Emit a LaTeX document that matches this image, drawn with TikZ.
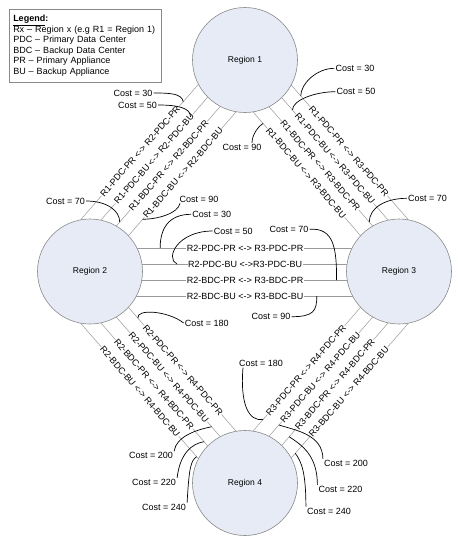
\documentclass[tikz,border=0pt]{standalone}
\usepackage{fontspec}
\setmainfont{Liberation Sans}
\definecolor{regfill}{HTML}{E6EBF6}
\definecolor{regline}{HTML}{8A8A8A}
\definecolor{linkgray}{HTML}{9A9A9A}
\begin{document}
\begin{tikzpicture}[x=1pt,y=-1pt,
  region/.style={circle,draw=regline,line width=0.6pt,fill=regfill,minimum size=105pt,inner sep=0pt,font=\fontsize{8.5}{10}\selectfont},
  link/.style={draw=linkgray,line width=0.5pt},
  lbl/.style={sloped,fill=white,inner sep=0.5pt,font=\fontsize{9}{10}\selectfont},
  cost/.style={inner sep=1pt,font=\fontsize{9}{10}\selectfont},
  callout/.style={draw=black,line width=0.7pt},
  legendbox/.style={draw=regline,line width=0.5pt,anchor=north west,text width=144pt,minimum width=151.4pt,minimum height=72.4pt,inner xsep=3.7pt,inner ysep=2pt,align=left,font=\fontsize{9}{10.6}\selectfont}]
\useasboundingbox (0,0) rectangle (458,544);

% ---- end points of the connectors (inside the circles) ----
\coordinate (a12-1) at (230.2,47.7); \coordinate (b12-1) at (59.0,244.7);
\coordinate (a12-2) at (241.9,57.8); \coordinate (b12-2) at (70.7,254.8);
\coordinate (a12-3) at (253.6,68.0); \coordinate (b12-3) at (82.4,265.0);
\coordinate (a12-4) at (265.3,78.2); \coordinate (b12-4) at (94.1,275.2);

\coordinate (a13-1) at (258.8,47.7); \coordinate (b13-1) at (430.0,244.7);
\coordinate (a13-2) at (247.1,57.8); \coordinate (b13-2) at (418.3,254.8);
\coordinate (a13-3) at (235.4,68.0); \coordinate (b13-3) at (406.6,265.0);
\coordinate (a13-4) at (223.7,78.2); \coordinate (b13-4) at (394.9,275.2);

\coordinate (a24-1) at (94.1,267.8); \coordinate (b24-1) at (265.3,464.8);
\coordinate (a24-2) at (82.4,278.0); \coordinate (b24-2) at (253.6,475.0);
\coordinate (a24-3) at (70.7,288.2); \coordinate (b24-3) at (241.9,485.2);
\coordinate (a24-4) at (59.0,298.3); \coordinate (b24-4) at (230.2,495.3);

\coordinate (a34-1) at (394.9,267.8); \coordinate (b34-1) at (223.7,464.8);
\coordinate (a34-2) at (406.6,278.0); \coordinate (b34-2) at (235.4,475.0);
\coordinate (a34-3) at (418.3,288.2); \coordinate (b34-3) at (247.1,485.2);
\coordinate (a34-4) at (430.0,298.3); \coordinate (b34-4) at (258.8,495.3);

\coordinate (a23-1) at (90,248); \coordinate (b23-1) at (399,248);
\coordinate (a23-2) at (90,264); \coordinate (b23-2) at (399,264);
\coordinate (a23-3) at (90,280); \coordinate (b23-3) at (399,280);
\coordinate (a23-4) at (90,296); \coordinate (b23-4) at (399,296);

% ---- connectors ----
\draw[link] (a12-1) -- node[lbl,pos=.526]{R1-PDC-PR <-> R2-PDC-PR} coordinate[pos=.274] (k12-1) (b12-1);
\draw[link] (a12-2) -- node[lbl,pos=.513]{R1-PDC-BU <-> R2-PDC-BU} coordinate[pos=.30] (k12-2) (b12-2);
\draw[link] (a12-3) -- node[lbl,pos=.496]{R1-BDC-PR <-> R2-BDC-PR} coordinate[pos=.782] (k12-3) (b12-3);
\draw[link] (a12-4) -- node[lbl,pos=.481]{R1-BDC-BU <-> R2-BDC-BU} coordinate[pos=.716] (k12-4) (b12-4);

\draw[link] (a13-1) -- node[lbl,pos=.526]{R1-PDC-PR <-> R3-PDC-PR} coordinate[pos=.245] (k13-1) (b13-1);
\draw[link] (a13-2) -- node[lbl,pos=.513]{R1-PDC-BU <-> R3-PDC-BU} coordinate[pos=.265] (k13-2) (b13-2);
\draw[link] (a13-3) -- node[lbl,pos=.496]{R1-BDC-PR <-> R3-BDC-PR} coordinate[pos=.782] (k13-3) (b13-3);
\draw[link] (a13-4) -- node[lbl,pos=.481]{R1-BDC-BU <-> R3-BDC-BU} coordinate[pos=.23] (k13-4) (b13-4);

\draw[link] (a23-1) -- node[lbl,pos=.502]{R2-PDC-PR <-> R3-PDC-PR} coordinate[pos=.227] (k23-1) (b23-1);
\draw[link] (a23-2) -- node[lbl,pos=.502]{R2-PDC-BU <->R3-PDC-BU} coordinate[pos=.281] (k23-2) (b23-2);
\draw[link] (a23-3) -- node[lbl,pos=.502]{R2-BDC-PR <-> R3-BDC-PR} coordinate[pos=.798] (k23-3) (b23-3);
\draw[link] (a23-4) -- node[lbl,pos=.502]{R2-BDC-BU <-> R3-BDC-BU} coordinate[pos=.734] (k23-4) (b23-4);

\draw[link] (a24-1) -- node[lbl,pos=.519]{R2-PDC-PR <-> R4-PDC-PR} coordinate[pos=.256] (k24-1) (b24-1);
\draw[link] (a24-2) -- node[lbl,pos=.504]{R2-PDC-BU <-> R4-PDC-BU} coordinate[pos=.755] (k24-2) (b24-2);
\draw[link] (a24-3) -- node[lbl,pos=.487]{R2-BDC-PR <-> R4-BDC-PR} coordinate[pos=.779] (k24-3) (b24-3);
\draw[link] (a24-4) -- node[lbl,pos=.474]{R2-BDC-BU <-> R4-BDC-BU} coordinate[pos=.804] (k24-4) (b24-4);

\draw[link] (a34-1) -- node[lbl,pos=.519]{R3-PDC-PR <-> R4-PDC-PR} coordinate[pos=.769] (k34-1) (b34-1);
\draw[link] (a34-2) -- node[lbl,pos=.504]{R3-PDC-BU <-> R4-PDC-BU} coordinate[pos=.746] (k34-2) (b34-2);
\draw[link] (a34-3) -- node[lbl,pos=.487]{R3-BDC-PR <-> R4-BDC-PR} coordinate[pos=.754] (k34-3) (b34-3);
\draw[link] (a34-4) -- node[lbl,pos=.474]{R3-BDC-BU <-> R4-BDC-BU} coordinate[pos=.787] (k34-4) (b34-4);

% ---- regions ----
\node[region] (R1) at (245,60) {Region 1};
\node[region] (R2) at (90,271.5) {Region 2};
\node[region] (R3) at (399,271.5) {Region 3};
\node[region] (R4) at (245,483) {Region 4};

% ---- legend ----
\node[legendbox] (legend) at (9.3,9.3) {\textbf{\underline{Legend}:}\\
Rx – Region x (e.g R1 = Region 1)\\
PDC – Primary Data Center\\
BDC – Backup Data Center\\
PR – Primary Appliance\\
BU – Backup Appliance};

% ---- cost labels ----
\node[cost] (c12-1) at (133,93) {Cost = 30};
\node[cost] (c12-2) at (137.5,105) {Cost = 50};
\node[cost] (c12-3) at (65.5,201) {Cost = 70};
\node[cost] (c12-4) at (199,199) {Cost = 90};

\node[cost] (c13-1) at (355,68.3) {Cost = 30};
\node[cost] (c13-2) at (356,91.7) {Cost = 50};
\node[cost] (c13-3) at (427.5,198.3) {Cost = 70};
\node[cost] (c13-4) at (242,147.3) {Cost = 90};

\node[cost] (c23-1) at (211.7,214.3) {Cost = 30};
\node[cost] (c23-2) at (233.3,231) {Cost = 50};
\node[cost] (c23-3) at (289,229.3) {Cost = 70};
\node[cost] (c23-4) at (271,316.7) {Cost = 90};

\node[cost] (c24-1) at (206.7,323) {Cost = 180};
\node[cost] (c24-2) at (151,455.7) {Cost = 200};
\node[cost] (c24-3) at (154,482.3) {Cost = 220};
\node[cost] (c24-4) at (164,507.3) {Cost = 240};

\node[cost] (c34-1) at (261,363.3) {Cost = 180};
\node[cost] (c34-2) at (346,463.3) {Cost = 200};
\node[cost] (c34-3) at (340.5,489.3) {Cost = 220};
\node[cost] (c34-4) at (329,511) {Cost = 240};

% ---- callouts ----
\draw[callout] (c12-1.east) .. controls +(18,0) and +(-2,-8) .. (k12-1);
\draw[callout] (c12-2.east) .. controls +(20,0) and +(0,-9) .. (k12-2);
\draw[callout] (c12-3.east) .. controls +(20,0) and +(0,-12) .. (k12-3);
\draw[callout] ([xshift=-19pt]c12-4.south) .. controls +(-2,10) and +(15,0) .. (k12-4);

\draw[callout] (c13-1.west) .. controls +(-18,0) and +(0,-12) .. (k13-1);
\draw[callout] (c13-2.west) .. controls +(-20,0) and +(0,-10) .. (k13-2);
\draw[callout] (c13-3.west) .. controls +(-22,0) and +(0,-14) .. (k13-3);
\draw[callout] ([xshift=10pt]c13-4.north) .. controls +(0,-8) and +(-5,3) .. (k13-4);

\draw[callout] (c23-1.west) .. controls +(-22,0) and +(0,-20) .. (k23-1);
\draw[callout] (c23-2.west) .. controls +(-35,0) and +(-12,-6) .. (k23-2);
\draw[callout] (c23-3.east) .. controls +(25,-2) and +(0,-30) .. (k23-3);
\draw[callout] (c23-4.east) .. controls +(22,0) and +(0,15) .. (k23-4);

\draw[callout] (c24-1.west) .. controls +(-15,-12) and +(-2,-10) .. (k24-1);
\draw[callout] (c24-2.north east) .. controls +(2,-15) and +(-15,3) .. (k24-2);
\draw[callout] (c24-3.north east) .. controls +(3,-25) and +(-12,2) .. (k24-3);
\draw[callout] (c24-4.north east) .. controls +(2,-35) and +(-6,4) .. (k24-4);

\draw[callout] ([xshift=-18pt]c34-1.south) .. controls +(-3,35) and +(-15,3) .. (k34-1);
\draw[callout] (c34-2.north west) .. controls +(0,-25) and +(15,5) .. (k34-2);
\draw[callout] (c34-3.north west) .. controls +(0,-30) and +(12,8) .. (k34-3);
\draw[callout] (c34-4.north west) .. controls +(0,-35) and +(6,8) .. (k34-4);
\end{tikzpicture}
\end{document}
